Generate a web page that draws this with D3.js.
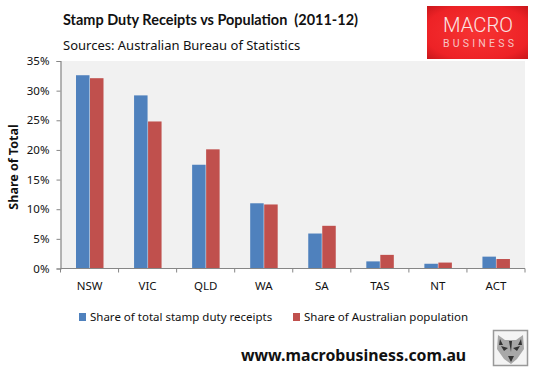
<!DOCTYPE html>
<html>
<head>
<meta charset="utf-8">
<script src="https://cdn.jsdelivr.net/npm/d3@7"></script>
<style>
html, body { margin: 0; padding: 0; background: #fff; }
svg { display: block; }
text { font-family: "Noto Sans", sans-serif; fill: #111; }
</style>
</head>
<body>
<svg id="chart" width="543" height="374"></svg>
<script>
const categories = ["NSW", "VIC", "QLD", "WA", "SA", "TAS", "NT", "ACT"];
const receipts = [32.6, 29.2, 17.5, 11.0, 5.9, 1.2, 0.8, 2.0];
const population = [32.1, 24.8, 20.1, 10.8, 7.2, 2.3, 1.0, 1.6];
const seriesNames = ["Share of total stamp duty receipts", "Share of Australian population"];
const yTicks = [0, 5, 10, 15, 20, 25, 30, 35];

const svg = d3.select("#chart");
const plotLeft = 60.5, plotRight = 525, plotTop = 61, plotBottom = 268.5;

const x = d3.scaleBand().domain(categories).range([plotLeft, plotRight]);
const y = d3.scaleLinear().domain([0, 35]).range([plotBottom, plotTop]);

svg.append("rect").attr("x", plotLeft).attr("y", plotTop).attr("width", plotRight - plotLeft).attr("height", plotBottom - plotTop).attr("fill", "#f1f1f1");

const colors = ["#4f81bd", "#c0504d"];
[receipts, population].forEach((vals, s) => {
	svg.append("g").selectAll("rect")
		.data(vals)
		.enter()
		.append("rect")
		.attr("x", (d, i) => x(categories[i]) + (s == 0 ? 15.5 : 29.5))
		.attr("y", (d) => y(d))
		.attr("width", 13.5)
		.attr("height", (d) => y(0) - y(d))
		.attr("fill", colors[s]);
});

// axes
const yAxis = svg.append("g").attr("transform", `translate(${plotLeft},0)`)
	.call(d3.axisLeft(y).tickValues(yTicks).tickSize(4).tickFormat((d) => d + "%"));
yAxis.selectAll("line,path").attr("stroke", "#868686");
yAxis.selectAll("path").attr("stroke-width", 1.2);
yAxis.selectAll("text").attr("x", -11).attr("font-size", 11.5).attr("fill", "#111");

const xAxis = svg.append("g").attr("transform", `translate(0,${plotBottom})`)
	.call(d3.axisBottom(x).tickSize(0).tickPadding(13));
xAxis.select("path").attr("stroke", "#868686").attr("stroke-width", 1.2).attr("d", `M${plotLeft},0H${plotRight}`);
xAxis.selectAll("text").attr("font-size", 11.5).attr("fill", "#111");
d3.range(categories.length + 1).forEach((i) => {
	let px = plotLeft + i * x.bandwidth();
	svg.append("line").attr("x1", px).attr("x2", px).attr("y1", plotBottom).attr("y2", plotBottom + 4).attr("stroke", "#868686");
});

// titles
svg.append("text").attr("x", 63).attr("y", 25).attr("font-size", 15).attr("font-weight", "bold").attr("textLength", 295).attr("lengthAdjust", "spacingAndGlyphs").style("font-family", "Lato").style("white-space", "pre").text("Stamp Duty Receipts vs Population  (2011-12)");
svg.append("text").attr("x", 63).attr("y", 50).attr("font-size", 13).text("Sources: Australian Bureau of Statistics");
svg.append("text").attr("transform", "translate(18,167) rotate(-90)").attr("text-anchor", "middle").attr("font-size", 12.5).attr("font-weight", "bold").text("Share of Total");

// legend
const legendX = [79, 293];
seriesNames.forEach((n, i) => {
	svg.append("rect").attr("x", legendX[i]).attr("y", 313).attr("width", 7).attr("height", 8).attr("fill", colors[i]);
	svg.append("text").attr("x", legendX[i] + 11).attr("y", 321).attr("font-size", 11.5).text(n);
});

svg.append("text").attr("x", 241).attr("y", 361).attr("font-size", 15.85).attr("font-weight", "bold").text("www.macrobusiness.com.au");

// logo
const defs = svg.append("defs");
const grad = defs.append("radialGradient").attr("id", "logoRed").attr("r", "0.75");
grad.append("stop").attr("offset", "0").attr("stop-color", "#f73333");
grad.append("stop").attr("offset", "0.7").attr("stop-color", "#ed2226");
grad.append("stop").attr("offset", "1").attr("stop-color", "#bf1418");
svg.append("rect").attr("x", 427).attr("y", 6).attr("width", 101).attr("height", 53).attr("fill", "url(#logoRed)");
svg.append("text").attr("x", 443).attr("y", 32).attr("font-size", 20).attr("font-weight", 300).attr("textLength", 70).attr("lengthAdjust", "spacingAndGlyphs").style("font-family", "Roboto").style("fill", "#fbe5e5").text("MACRO");
svg.append("text").attr("x", 443).attr("y", 47).attr("font-size", 10.5).attr("textLength", 71).style("font-family", "Roboto").style("fill", "#f6c4c4").text("BUSINESS");

// wolf badge
const wolf = svg.append("g").attr("transform", "translate(493,330)");
wolf.append("rect").attr("x", 0.5).attr("y", 0.5).attr("width", 34).attr("height", 35).attr("fill", "#f4f4f4").attr("stroke", "#999").attr("stroke-width", 1.5);
wolf.append("path").attr("d", "M5,5L12,10H23L30,5L31,19L24,29L18,34L11,29L4,19Z").attr("fill", "#a8a8a8");
wolf.append("path").attr("d", "M8,16L15,18L11,21ZM27,16L20,18L24,21ZM15,26H21L18,32ZM16,11H19L18,22ZM7,9L10,15L6,15ZM28,9L25,15L29,15Z").attr("fill", "#333");
</script>
</body>
</html>
